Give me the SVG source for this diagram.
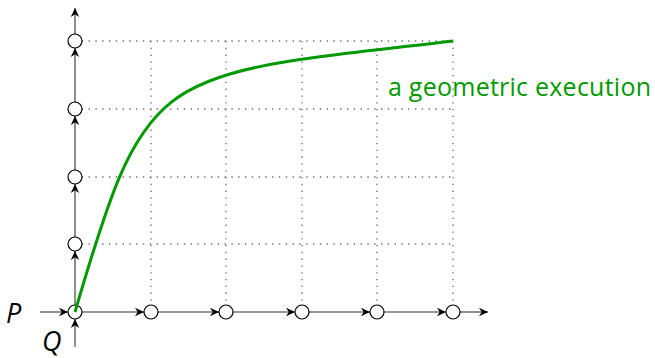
<svg xmlns="http://www.w3.org/2000/svg" width="655" height="358" viewBox="0 0 655 358">
  <style>
    .grid { stroke: #666; stroke-width: 1.3; stroke-dasharray: 1.3 5.5; fill: none; }
    .axis { stroke: #333; stroke-width: 1.1; fill: none; marker-end: url(#arr); }
    .node { fill: #fff; stroke: #000; stroke-width: 1.2; }
    .lbl { font-family: "Open Sans", "DejaVu Sans", sans-serif; font-style: italic; font-size: 27px; fill: #000; }
    .curve { stroke: #009900; stroke-width: 3; fill: none; }
    .ctext { font-family: "Open Sans", "DejaVu Sans", sans-serif; font-size: 25px; fill: #009900; }
  </style>
  <defs>
    <marker id="arr" viewBox="-10 -5 11 10" refX="0" refY="0" markerWidth="11" markerHeight="10" markerUnits="userSpaceOnUse" orient="auto">
      <path d="M0,0 L-9,-4.2 L-6.3,0 L-9,4.2 Z" fill="#000"/>
    </marker>
  </defs>
  <g id="grid">
    <line class="grid" x1="75" y1="41" x2="453" y2="41"/>
    <line class="grid" x1="75" y1="109" x2="453" y2="109"/>
    <line class="grid" x1="75" y1="177" x2="453" y2="177"/>
    <line class="grid" x1="75" y1="244" x2="453" y2="244"/>
    <line class="grid" x1="151" y1="41" x2="151" y2="312"/>
    <line class="grid" x1="226" y1="41" x2="226" y2="312"/>
    <line class="grid" x1="302" y1="41" x2="302" y2="312"/>
    <line class="grid" x1="377" y1="41" x2="377" y2="312"/>
    <line class="grid" x1="453" y1="41" x2="453" y2="312"/>
  </g>
  <g id="connectors">
    <line class="axis" x1="40" y1="312" x2="68" y2="312"/>
    <line class="axis" x1="82" y1="312" x2="144" y2="312"/>
    <line class="axis" x1="158" y1="312" x2="219" y2="312"/>
    <line class="axis" x1="233" y1="312" x2="295" y2="312"/>
    <line class="axis" x1="309" y1="312" x2="370" y2="312"/>
    <line class="axis" x1="384" y1="312" x2="446" y2="312"/>
    <line class="axis" x1="460" y1="312" x2="488" y2="312"/>
    <line class="axis" x1="75" y1="347" x2="75" y2="319"/>
    <line class="axis" x1="75" y1="305" x2="75" y2="251"/>
    <line class="axis" x1="75" y1="237" x2="75" y2="184"/>
    <line class="axis" x1="75" y1="170" x2="75" y2="116"/>
    <line class="axis" x1="75" y1="102" x2="75" y2="48"/>
    <line class="axis" x1="75" y1="34" x2="75" y2="8"/>
  </g>
  <g id="nodes">
    <g id="n-x0"><circle class="node" cx="75" cy="312" r="7"/></g>
    <g id="n-x1"><circle class="node" cx="151" cy="312" r="7"/></g>
    <g id="n-x2"><circle class="node" cx="226" cy="312" r="7"/></g>
    <g id="n-x3"><circle class="node" cx="302" cy="312" r="7"/></g>
    <g id="n-x4"><circle class="node" cx="377" cy="312" r="7"/></g>
    <g id="n-x5"><circle class="node" cx="453" cy="312" r="7"/></g>
    <g id="n-y1"><circle class="node" cx="75" cy="244" r="7"/></g>
    <g id="n-y2"><circle class="node" cx="75" cy="177" r="7"/></g>
    <g id="n-y3"><circle class="node" cx="75" cy="109" r="7"/></g>
    <g id="n-y4"><circle class="node" cx="75" cy="41" r="7"/></g>
  </g>
  <g id="labels">
    <text class="lbl" x="6" y="323">P</text>
    <text class="lbl" x="42" y="351" font-size="25">Q</text>
  </g>
  <g id="execution">
    <path class="curve" d="M75,312 C147.8,62.4 155.4,76.1 453,41"/>
    <text class="ctext" x="388" y="96" textLength="263">a geometric execution</text>
  </g>
</svg>
